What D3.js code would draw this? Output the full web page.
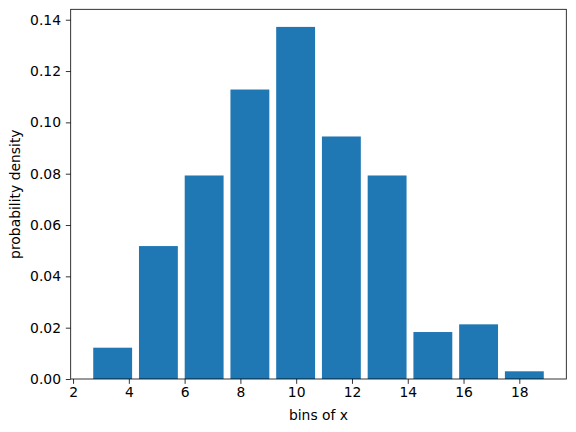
<!DOCTYPE html>
<html>
<head>
<meta charset="utf-8">
<script src="https://cdn.jsdelivr.net/npm/d3@7"></script>
<style>
html,body{margin:0;padding:0;background:#fff;}
svg{display:block;font-family:"DejaVu Sans",sans-serif;}
</style>
</head>
<body>
<svg id="chart" width="576" height="432"></svg>
<script>
// Histogram bin edges (11 edges -> 10 bins)
const binEdges = [2.60, 4.24, 5.88, 7.52, 9.16, 10.80, 12.44, 14.08, 15.72, 17.36, 19.00];
// Probability density per bin
const densities = [0.0122, 0.0518, 0.0793, 0.1128, 0.1372, 0.0945, 0.0793, 0.0183, 0.0213, 0.0030];
const xTicks = [2, 4, 6, 8, 10, 12, 14, 16, 18];
const yTicks = [0.00, 0.02, 0.04, 0.06, 0.08, 0.10, 0.12, 0.14];
const xLabel = "bins of x";
const yLabel = "probability density";
const rwidth = 0.85;

const svg = d3.select("#chart");
const L = 70.7, R = 566.3, T = 9.3, B = 379;

// matplotlib-like 5% margins around bar extents
const bars = densities.map((d, i) => {
  const w = binEdges[i + 1] - binEdges[i];
  const x0 = binEdges[i] + w * (1 - rwidth) / 2;
  return { x0, x1: x0 + w * rwidth, y: d };
});
const dMin = d3.min(bars, b => b.x0), dMax = d3.max(bars, b => b.x1);
const span = dMax - dMin;
const x = d3.scaleLinear().domain([dMin - 0.05 * span, dMax + 0.05 * span]).range([L, R]);
const yMax = d3.max(densities) * 1.05;
const y = d3.scaleLinear().domain([0, yMax]).range([B, T]);

svg.append("g").selectAll("rect").data(bars).join("rect")
  .attr("x", d => x(d.x0))
  .attr("width", d => x(d.x1) - x(d.x0))
  .attr("y", d => y(d.y))
  .attr("height", d => y(0) - y(d.y))
  .attr("fill", "#1f77b4");

const fs = 13.9;
const tk = 4.86;
const xAxis = d3.axisBottom(x).tickValues(xTicks).tickFormat(d3.format("d")).tickSize(tk).tickPadding(tk - 1.5);
const gx = svg.append("g").attr("transform", `translate(0,${B})`).call(xAxis);
const yAxis = d3.axisLeft(y).tickValues(yTicks).tickFormat(d3.format(".2f")).tickSize(tk).tickPadding(tk);
const gy = svg.append("g").attr("transform", `translate(${L},0)`).call(yAxis);

[gx, gy].forEach(g => {
  g.select(".domain").remove();
  g.selectAll(".tick line").attr("stroke", "#000").attr("stroke-width", 0.8);
  g.selectAll(".tick text").attr("fill", "#000").style("font-size", fs + "px").style("font-family", "DejaVu Sans");
});

// frame
svg.append("rect").attr("x", L).attr("y", T).attr("width", R - L).attr("height", B - T)
  .attr("fill", "none").attr("stroke", "#000").attr("stroke-width", 0.8);

svg.append("text").attr("x", (L + R) / 2).attr("y", 419.5).attr("text-anchor", "middle")
  .style("font-size", fs + "px").attr("fill", "#000").text(xLabel);
svg.append("text").attr("transform", `translate(19.8,${(T + B) / 2}) rotate(-90)`).attr("text-anchor", "middle")
  .style("font-size", fs + "px").attr("fill", "#000").text(yLabel);
</script>
</body>
</html>
